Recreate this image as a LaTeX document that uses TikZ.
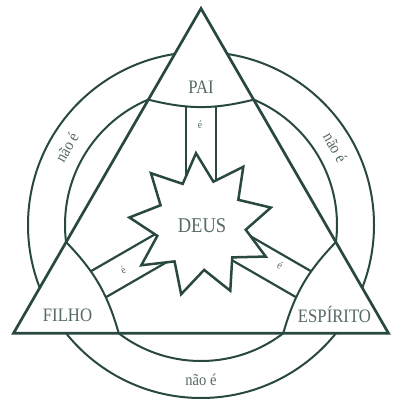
\documentclass[tikz,border=0pt]{standalone}
\usepackage{fontspec}
\setmainfont{Liberation Serif}
\newfontfamily\lblfont[FakeStretch=0.88]{Liberation Serif}
\usetikzlibrary{calc}
\definecolor{ink}{RGB}{40,72,65}
\definecolor{txt}{RGB}{85,105,102}
\begin{document}
\begin{tikzpicture}[x=1pt,y=1pt,
  ringline/.style={draw=ink,line width=2pt},
  triline/.style={draw=ink,line width=2.7pt,line join=miter},
  barline/.style={draw=ink,line width=2.2pt},
  persona/.style={text=txt,font=\lblfont\fontsize{19}{19}\selectfont,anchor=base,inner sep=0pt},
  deuslbl/.style={text=txt,font=\lblfont\fontsize{21}{21}\selectfont,anchor=base,inner sep=0pt},
  notlbl/.style={text=txt,font=\lblfont\fontsize{16.5}{16.5}\selectfont,inner sep=0pt},
  islbl/.style={text=txt,font=\lblfont\fontsize{11}{11}\selectfont,inner sep=0pt}]
\useasboundingbox (0,0) rectangle (392,401);
\coordinate (O) at (201,176);
\coordinate (A) at ($(O)+(90:216.5)$);
\coordinate (B) at ($(O)+(210:216.5)$);
\coordinate (C) at ($(O)+(330:216.5)$);
% circles (visible only outside the triangle)
\draw[ringline] (O) circle[radius=173];
\draw[ringline] (O) circle[radius=136];
\fill[white] (A)--(B)--(C)--cycle;
% bars
\foreach \a in {90,210,330}{
  \draw[barline] ($(O)+(\a+90:15)$) -- ($(O)+(\a:140)+(\a+90:15)$);
  \draw[barline] ($(O)+(\a-90:15)$) -- ($(O)+(\a:140)+(\a-90:15)$);
}
% corner regions
\foreach \a/\v in {90/A,210/B,330/C}{
  \fill[white] ($(O)+(\a+22.8:136)$) to[bend right=14] ($(O)+(\a-22.8:136)$) -- (\v) -- cycle;
  \draw[ringline] ($(O)+(\a+22.8:136)$) to[bend right=14] ($(O)+(\a-22.8:136)$);
}
\draw[triline] (A)--(B)--(C)--cycle;
% star
\filldraw[fill=white,draw=ink,line width=2.5pt,line join=miter]
  ($(O)+(94:72)$) \foreach \k in {0,...,8}{ -- ($(O)+(74-40*\k:45)$) -- ($(O)+(54-40*\k:72)$)} -- cycle;
% labels
\node[persona] (pai) at (201,307.7) {PAI};
\node[persona] (filho) at (67.5,79.3) {FILHO};
\node[persona] (esp) at (334.5,78.3) {ESPÍRITO};
\node[deuslbl] (deus) at (202,168.3) {DEUS};
\node[islbl] (e1) at (200,276) {é};
\node[islbl,rotate=30] (e2) at (123,131) {é};
\node[islbl,rotate=-30] (e3) at (280,136) {é};
\node[notlbl,rotate=60] (n1) at ($(O)+(150:155)$) {não é};
\node[notlbl,rotate=-60] (n2) at ($(O)+(30:155)$) {não é};
\node[notlbl] (n3) at ($(O)+(-90:155)$) {não é};
\end{tikzpicture}
\end{document}
